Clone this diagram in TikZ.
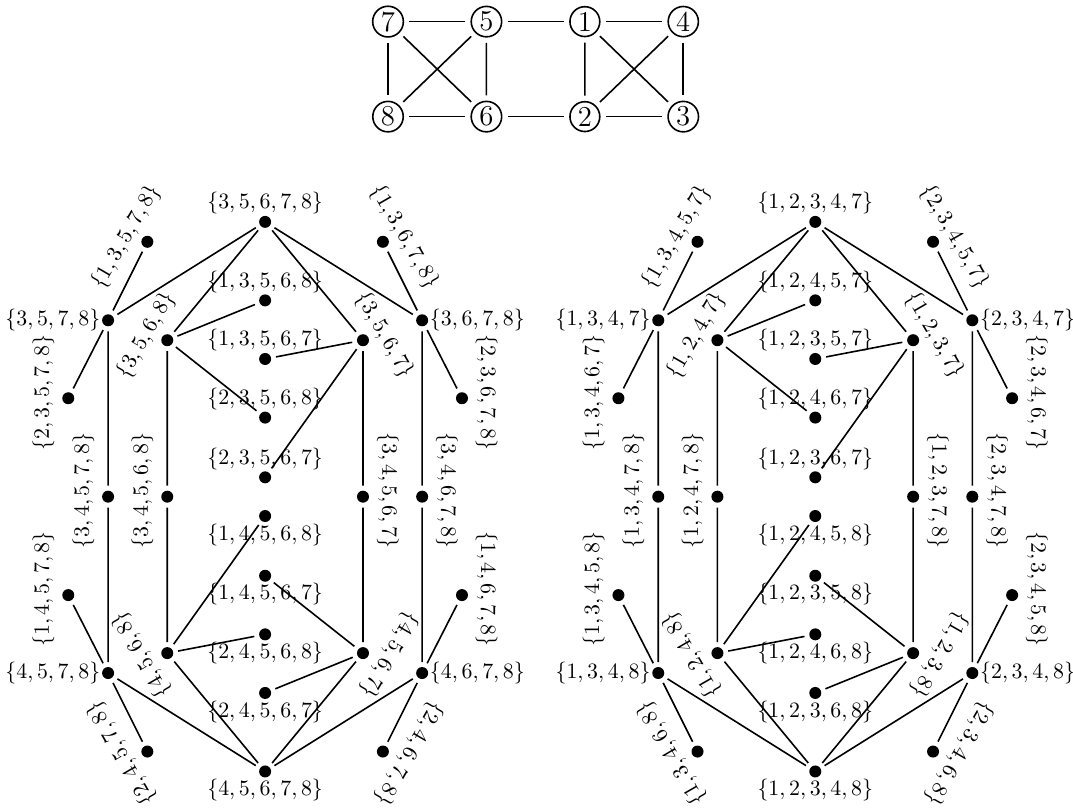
\documentclass[tikz,border=0pt]{standalone}
\usepackage{amsmath,amssymb}
\usepackage{tikz}

\begin{document}
\begin{tikzpicture}
\tikzset{dot/.style={circle,fill,inner sep=0pt,minimum size=6pt,outer sep=2.5pt}}
\tikzset{vtx/.style={circle,draw,font=\Large,inner sep=1.1pt,outer sep=3pt}}
\tikzset{every label/.style={inner sep=1pt,font=\fontsize{10.95}{13.6}\selectfont},label distance=-3pt}
\tikzset{rl/.style={rotate=#1,anchor=south}}
\tikzset{every path/.style={thick}}
\useasboundingbox (-4.66,-5.54) rectangle (14.2,8.73);
% the graph
\node[vtx] (v7) at (2.16,8.35) {7};
\node[vtx] (v5) at (3.89,8.35) {5};
\node[vtx] (v1) at (5.62,8.35) {1};
\node[vtx] (v4) at (7.35,8.35) {4};
\node[vtx] (v8) at (2.16,6.68) {8};
\node[vtx] (v6) at (3.89,6.68) {6};
\node[vtx] (v2) at (5.62,6.68) {2};
\node[vtx] (v3) at (7.35,6.68) {3};
\draw (v7) -- (v5) -- (v1) -- (v4) -- (v3) -- (v2) -- (v6) -- (v8) -- (v7);
\draw (v7) -- (v6) (v5) -- (v8) (v5) -- (v6);
\draw (v1) -- (v2) (v1) -- (v3) (v4) -- (v2);
% left part
\node[dot,label={above:$\{3,5,6,7,8\}$}] (s35678) at (0,4.83) {};
\node[dot,label={left:$\{3,5,7,8\}$}] (s3578) at (-2.76,3.1) {};
\node[dot,label={[rl=60]below left:$\{3,5,6,8\}$}] (s3568) at (-1.72,2.75) {};
\node[dot,label={[rl=-60]below right:$\{3,5,6,7\}$}] (s3567) at (1.72,2.75) {};
\node[dot,label={right:$\{3,6,7,8\}$}] (s3678) at (2.76,3.1) {};
\node[dot,label={[rl=60]below left:$\{1,3,5,7,8\}$}] (s13578) at (-2.07,4.48) {};
\node[dot,label={[rl=90]left:$\{2,3,5,7,8\}$}] (s23578) at (-3.46,1.73) {};
\node[dot,label={[rl=-60]below right:$\{1,3,6,7,8\}$}] (s13678) at (2.07,4.48) {};
\node[dot,label={[rl=-90]right:$\{2,3,6,7,8\}$}] (s23678) at (3.46,1.73) {};
\node[dot,label={above:$\{1,3,5,6,8\}$}] (s13568) at (0,3.45) {};
\node[dot,label={above:$\{1,3,5,6,7\}$}] (s13567) at (0,2.42) {};
\node[dot,label={above:$\{2,3,5,6,8\}$}] (s23568) at (0,1.39) {};
\node[dot,label={above:$\{2,3,5,6,7\}$}] (s23567) at (0,0.34) {};
\node[dot,label={[rl=90]left:$\{3,4,5,7,8\}$}] (s34578) at (-2.76,0) {};
\node[dot,label={[rl=90]left:$\{3,4,5,6,8\}$}] (s34568) at (-1.72,0) {};
\node[dot,label={[rl=-90]right:$\{3,4,5,6,7\}$}] (s34567) at (1.72,0) {};
\node[dot,label={[rl=-90]right:$\{3,4,6,7,8\}$}] (s34678) at (2.76,0) {};
\node[dot,label={below:$\{1,4,5,6,8\}$}] (s14568) at (0,-0.34) {};
\node[dot,label={below:$\{1,4,5,6,7\}$}] (s14567) at (0,-1.39) {};
\node[dot,label={below:$\{2,4,5,6,8\}$}] (s24568) at (0,-2.42) {};
\node[dot,label={below:$\{2,4,5,6,7\}$}] (s24567) at (0,-3.45) {};
\node[dot,label={left:$\{4,5,7,8\}$}] (s4578) at (-2.76,-3.1) {};
\node[dot,label={[rl=120]left:$\{4,5,6,8\}$}] (s4568) at (-1.72,-2.75) {};
\node[dot,label={[rl=-120]right:$\{4,5,6,7\}$}] (s4567) at (1.72,-2.75) {};
\node[dot,label={right:$\{4,6,7,8\}$}] (s4678) at (2.76,-3.1) {};
\node[dot,label={[rl=90]left:$\{1,4,5,7,8\}$}] (s14578) at (-3.46,-1.73) {};
\node[dot,label={[rl=120]left:$\{2,4,5,7,8\}$}] (s24578) at (-2.07,-4.48) {};
\node[dot,label={[rl=-90]right:$\{1,4,6,7,8\}$}] (s14678) at (3.46,-1.73) {};
\node[dot,label={[rl=-120]right:$\{2,4,6,7,8\}$}] (s24678) at (2.07,-4.48) {};
\node[dot,label={below:$\{4,5,6,7,8\}$}] (s45678) at (0,-4.83) {};
\draw (s35678) -- (s3578) (s35678) -- (s3568) (s35678) -- (s3567) (s35678) -- (s3678);
\draw (s3578) -- (s13578) (s3578) -- (s23578) (s3578) -- (s34578) -- (s4578);
\draw (s3568) -- (s13568) (s3568) -- (s23568) (s3568) -- (s34568) -- (s4568);
\draw (s3567) -- (s13567) (s3567) -- (s23567) (s3567) -- (s34567) -- (s4567);
\draw (s3678) -- (s13678) (s3678) -- (s23678) (s3678) -- (s34678) -- (s4678);
\draw (s4578) -- (s14578) (s4578) -- (s24578) (s4578) -- (s45678);
\draw (s4568) -- (s14568) (s4568) -- (s24568) (s4568) -- (s45678);
\draw (s4567) -- (s14567) (s4567) -- (s24567) (s4567) -- (s45678);
\draw (s4678) -- (s14678) (s4678) -- (s24678) (s4678) -- (s45678);
% right part
\begin{scope}[xshift=9.67cm]
\node[dot,label={above:$\{1,2,3,4,7\}$}] (s12347) at (0,4.83) {};
\node[dot,label={left:$\{1,3,4,7\}$}] (s1347) at (-2.76,3.1) {};
\node[dot,label={[rl=60]below left:$\{1,2,4,7\}$}] (s1247) at (-1.72,2.75) {};
\node[dot,label={[rl=-60]below right:$\{1,2,3,7\}$}] (s1237) at (1.72,2.75) {};
\node[dot,label={right:$\{2,3,4,7\}$}] (s2347) at (2.76,3.1) {};
\node[dot,label={[rl=60]below left:$\{1,3,4,5,7\}$}] (s13457) at (-2.07,4.48) {};
\node[dot,label={[rl=90]left:$\{1,3,4,6,7\}$}] (s13467) at (-3.46,1.73) {};
\node[dot,label={[rl=-60]below right:$\{2,3,4,5,7\}$}] (s23457) at (2.07,4.48) {};
\node[dot,label={[rl=-90]right:$\{2,3,4,6,7\}$}] (s23467) at (3.46,1.73) {};
\node[dot,label={above:$\{1,2,4,5,7\}$}] (s12457) at (0,3.45) {};
\node[dot,label={above:$\{1,2,3,5,7\}$}] (s12357) at (0,2.42) {};
\node[dot,label={above:$\{1,2,4,6,7\}$}] (s12467) at (0,1.39) {};
\node[dot,label={above:$\{1,2,3,6,7\}$}] (s12367) at (0,0.34) {};
\node[dot,label={[rl=90]left:$\{1,3,4,7,8\}$}] (s13478) at (-2.76,0) {};
\node[dot,label={[rl=90]left:$\{1,2,4,7,8\}$}] (s12478) at (-1.72,0) {};
\node[dot,label={[rl=-90]right:$\{1,2,3,7,8\}$}] (s12378) at (1.72,0) {};
\node[dot,label={[rl=-90]right:$\{2,3,4,7,8\}$}] (s23478) at (2.76,0) {};
\node[dot,label={below:$\{1,2,4,5,8\}$}] (s12458) at (0,-0.34) {};
\node[dot,label={below:$\{1,2,3,5,8\}$}] (s12358) at (0,-1.39) {};
\node[dot,label={below:$\{1,2,4,6,8\}$}] (s12468) at (0,-2.42) {};
\node[dot,label={below:$\{1,2,3,6,8\}$}] (s12368) at (0,-3.45) {};
\node[dot,label={left:$\{1,3,4,8\}$}] (s1348) at (-2.76,-3.1) {};
\node[dot,label={[rl=120]left:$\{1,2,4,8\}$}] (s1248) at (-1.72,-2.75) {};
\node[dot,label={[rl=-120]right:$\{1,2,3,8\}$}] (s1238) at (1.72,-2.75) {};
\node[dot,label={right:$\{2,3,4,8\}$}] (s2348) at (2.76,-3.1) {};
\node[dot,label={[rl=90]left:$\{1,3,4,5,8\}$}] (s13458) at (-3.46,-1.73) {};
\node[dot,label={[rl=120]left:$\{1,3,4,6,8\}$}] (s13468) at (-2.07,-4.48) {};
\node[dot,label={[rl=-90]right:$\{2,3,4,5,8\}$}] (s23458) at (3.46,-1.73) {};
\node[dot,label={[rl=-120]right:$\{2,3,4,6,8\}$}] (s23468) at (2.07,-4.48) {};
\node[dot,label={below:$\{1,2,3,4,8\}$}] (s12348) at (0,-4.83) {};
\draw (s12347) -- (s1347) (s12347) -- (s1247) (s12347) -- (s1237) (s12347) -- (s2347);
\draw (s1347) -- (s13457) (s1347) -- (s13467) (s1347) -- (s13478) -- (s1348);
\draw (s1247) -- (s12457) (s1247) -- (s12467) (s1247) -- (s12478) -- (s1248);
\draw (s1237) -- (s12357) (s1237) -- (s12367) (s1237) -- (s12378) -- (s1238);
\draw (s2347) -- (s23457) (s2347) -- (s23467) (s2347) -- (s23478) -- (s2348);
\draw (s1348) -- (s13458) (s1348) -- (s13468) (s1348) -- (s12348);
\draw (s1248) -- (s12458) (s1248) -- (s12468) (s1248) -- (s12348);
\draw (s1238) -- (s12358) (s1238) -- (s12368) (s1238) -- (s12348);
\draw (s2348) -- (s23458) (s2348) -- (s23468) (s2348) -- (s12348);
\end{scope}
\end{tikzpicture}
\end{document}
